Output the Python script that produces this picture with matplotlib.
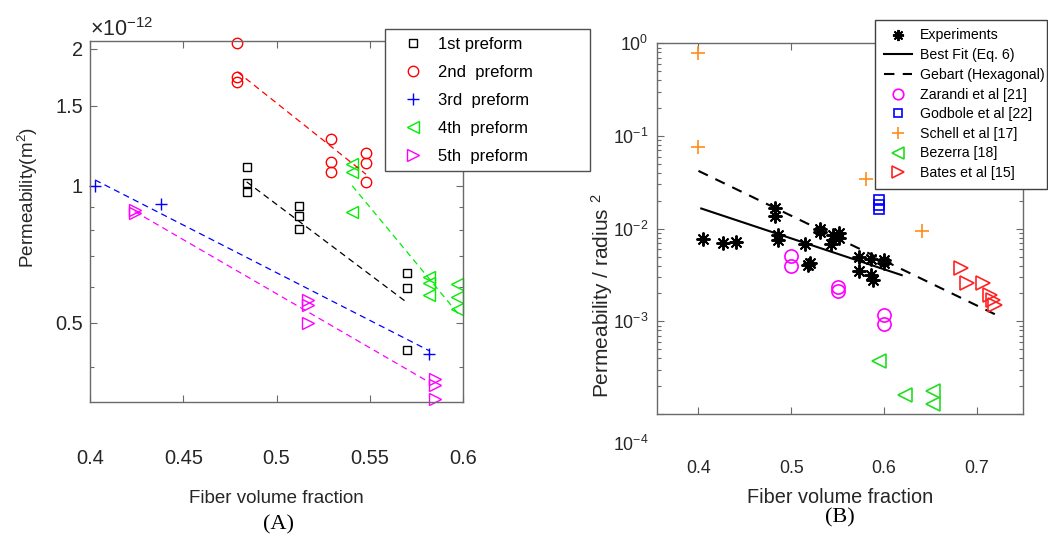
import math
import matplotlib
matplotlib.use('Agg')
import matplotlib.pyplot as plt
from matplotlib.ticker import FixedLocator, NullFormatter, FuncFormatter

plt.rcParams['font.family'] = ['Liberation Sans', 'DejaVu Sans']
plt.rcParams['mathtext.fontset'] = 'custom'
plt.rcParams['mathtext.rm'] = 'Liberation Sans'
plt.rcParams['mathtext.it'] = 'Liberation Sans:italic'
plt.rcParams['mathtext.bf'] = 'Liberation Sans:bold'
plt.rcParams['mathtext.default'] = 'regular'

# ---- (A) permeability of the five preforms, in 1e-12 m^2 ----
pf1_vf = [0.484, 0.484, 0.484, 0.512, 0.512, 0.512, 0.570, 0.570, 0.570]
pf1_k = [1.10, 1.015, 0.968, 0.904, 0.86, 0.805, 0.642, 0.597, 0.436]
pf2_vf = [0.479, 0.479, 0.479, 0.529, 0.529, 0.529, 0.548, 0.548, 0.548]
pf2_k = [2.06, 1.73, 1.69, 1.27, 1.13, 1.07, 1.18, 1.12, 1.02]
pf3_vf = [0.4027, 0.438, 0.582]
pf3_k = [1.0, 0.911, 0.426]
pf4_vf = [0.5406, 0.5406, 0.5406, 0.582, 0.582, 0.582, 0.5966, 0.5966, 0.5966]
pf4_k = [1.114, 1.07, 0.878, 0.63, 0.612, 0.577, 0.607, 0.57, 0.536]
pf5_vf = [0.424, 0.424, 0.517, 0.517, 0.517, 0.585, 0.585, 0.585]
pf5_k = [0.886, 0.87, 0.561, 0.547, 0.50, 0.376, 0.366, 0.34]

# exponential fits (end points)
fit1_vf, fit1_k = [0.484, 0.570], [1.02, 0.554]
fit2_vf, fit2_k = [0.479, 0.548], [1.78, 1.06]
fit3_vf, fit3_k = [0.4027, 0.582], [1.03, 0.434]
fit4_vf, fit4_k = [0.5406, 0.598], [1.0, 0.52]
fit5_vf, fit5_k = [0.424, 0.582], [0.878, 0.37]

# ---- (B) normalised permeability vs literature ----
exp_vf = [0.4047, 0.426, 0.4407, 0.482, 0.482, 0.4857, 0.4857, 0.5145, 0.518, 0.52,
          0.5314, 0.5314, 0.543, 0.545, 0.5516, 0.5516, 0.573, 0.573, 0.5854, 0.5854,
          0.588, 0.5998, 0.5998]
exp_k = [0.0078, 0.0070, 0.0072, 0.0169, 0.0136, 0.0085, 0.0075, 0.0069, 0.0041, 0.0043,
         0.0092, 0.0098, 0.0069, 0.0085, 0.0089, 0.0080, 0.0049, 0.0035, 0.0047, 0.0032,
         0.0028, 0.0046, 0.0043]
zarandi_vf = [0.5, 0.5, 0.55, 0.55, 0.6, 0.6]
zarandi_k = [0.00505, 0.0040, 0.00236, 0.0021, 0.00118, 0.00093]
godbole_vf = [0.595, 0.595, 0.595]
godbole_k = [0.0203, 0.018, 0.0162]
schell_vf = [0.4, 0.4, 0.58, 0.6405]
schell_k = [0.78, 0.076, 0.034, 0.0095]
bezerra_vf = [0.594, 0.623, 0.653, 0.653]
bezerra_k = [0.000373, 0.000162, 0.000177, 0.000128]
bates_vf = [0.683, 0.689, 0.707, 0.714, 0.719, 0.717]
bates_k = [0.0038, 0.0026, 0.0026, 0.0019, 0.0015, 0.0017]
bestfit_vf, bestfit_k = [0.403, 0.619], [0.0165, 0.00315]
gebart_vf, gebart_k = [0.4, 0.725], [0.042, 0.00112]

W, H = 1048, 536
fig = plt.figure(figsize=(W / 100, H / 100), dpi=100)
axA = fig.add_axes([90 / W, 1 - 402 / H, 373 / W, 361 / H])
axB = fig.add_axes([656.7 / W, 1 - 414 / H, 366.6 / W, 370.7 / H])

spine_col = '#6a6a6a'
txt_col = '#262626'
for ax in (axA, axB):
    for s in ax.spines.values():
        s.set_color(spine_col)
        s.set_linewidth(1.0)
    ax.tick_params(which='both', direction='in', top=True, right=True,
                   color=spine_col, labelcolor=txt_col, width=0.8)
    ax.tick_params(which='major', length=5)
    ax.tick_params(which='minor', length=3)

# ---------------- panel A ----------------
ms = dict(fillstyle='none', linestyle='none', mew=1.0, clip_on=False)
axA.plot(pf1_vf, pf1_k, marker='s', color='k', ms=6, label='1st preform', **ms)
axA.plot(pf2_vf, pf2_k, marker='o', color='red', ms=7.5, label='2nd  preform', **ms)
axA.plot(pf3_vf, pf3_k, marker='+', color='blue', ms=8, label='3rd  preform', **ms)
axA.plot(pf4_vf, pf4_k, marker='<', color='#00ee00', ms=8, label='4th  preform', **ms)
axA.plot(pf5_vf, pf5_k, marker='>', color='magenta', ms=8, label='5th  preform', **ms)

dash = dict(linestyle=(0, (5, 3.5)), lw=0.9)
axA.plot(fit1_vf, fit1_k, color='k', **dash)
axA.plot(fit2_vf, fit2_k, color='red', **dash)
axA.plot(fit3_vf, fit3_k, color='blue', **dash)
axA.plot(fit4_vf, fit4_k, color='#00ee00', **dash)
axA.plot(fit5_vf, fit5_k, color='magenta', **dash)

axA.set_yscale('log')
axA.set_xlim(0.4, 0.6)
axA.set_ylim(0.335, 2.08)
axA.xaxis.set_major_locator(FixedLocator([0.4, 0.45, 0.5, 0.55, 0.6]))
axA.xaxis.set_major_formatter(FuncFormatter(lambda v, p: f'{v:g}'))
axA.yaxis.set_major_locator(FixedLocator([0.5, 1, 1.5, 2]))
axA.yaxis.set_major_formatter(FuncFormatter(lambda v, p: f'{v:g}'))
axA.yaxis.set_minor_locator(FixedLocator([0.4, 0.6, 0.7, 0.8, 0.9]))
axA.yaxis.set_minor_formatter(NullFormatter())
axA.tick_params(axis='x', labelsize=14.4, pad=34)
axA.tick_params(axis='y', labelsize=14.4, pad=5)
axA.set_xlabel('Fiber volume fraction', fontsize=13.5, color=txt_col, labelpad=16)
axA.set_ylabel('Permeability(m$^2$)', fontsize=13.6, color=txt_col)
axA.yaxis.set_label_coords(-0.134, 0.568)
axA.text(0.0, 1.0, r'$\times\mathdefault{10^{-12}}$', transform=axA.transAxes,
         fontsize=15.5, color=txt_col, ha='left', va='bottom')

legA = axA.legend(loc='upper left', bbox_to_anchor=(385 / W, 1 - 175 / H, 205 / W, 146 / H),
                  bbox_transform=fig.transFigure, mode='expand', borderaxespad=0,
                  fontsize=12, frameon=True, fancybox=False, framealpha=1,
                  edgecolor='#505050', borderpad=0.45, labelspacing=0.78,
                  handlelength=2.4, handletextpad=0.3)
legA.get_frame().set_linewidth(1.0)

# ---------------- panel B ----------------
axB.plot(exp_vf, exp_k, marker=(8, 2, 0), color='k', ms=10, mew=1.4,
         linestyle='none', label='Experiments')
axB.plot(bestfit_vf, bestfit_k, color='k', lw=1.5, label='Best Fit (Eq. 6)')
axB.plot(gebart_vf, gebart_k, color='k', lw=1.5, linestyle=(0, (5, 4)),
         label='Gebart (Hexagonal)')
mb = dict(fillstyle='none', linestyle='none', mew=1.2)
axB.plot(zarandi_vf, zarandi_k, marker='o', color='magenta', ms=9.5,
         label='Zarandi et al [21]', **mb)
axB.plot(godbole_vf, godbole_k, marker='s', color='blue', ms=6.5,
         label='Godbole et al [22]', **mb)
axB.plot(schell_vf, schell_k, marker='+', color='#ff8c1a', ms=10,
         label='Schell et al [17]', **mb)
axB.plot(bezerra_vf, bezerra_k, marker='<', color='#22dd22', ms=10,
         label='Bezerra [18]', **mb)
axB.plot(bates_vf, bates_k, marker='>', color='#ff2222', ms=10,
         label='Bates et al [15]', **mb)

axB.set_yscale('log')
axB.set_xlim(0.355, 0.75)
axB.set_ylim(1e-4, 1)
axB.xaxis.set_major_locator(FixedLocator([0.4, 0.5, 0.6, 0.7]))
axB.xaxis.set_major_formatter(FuncFormatter(lambda v, p: f'{v:g}'))
decades = [1e-4, 1e-3, 1e-2, 1e-1, 1e0]
axB.yaxis.set_major_locator(FixedLocator(decades))
axB.yaxis.set_major_formatter(FuncFormatter(
    lambda v, p: '' if v < 5e-4 else r'$\mathdefault{10^{%d}}$' % round(math.log10(v))))
axB.yaxis.set_minor_locator(FixedLocator([m * d for d in decades[:-1] for m in range(2, 10)]))
axB.yaxis.set_minor_formatter(NullFormatter())
axB.tick_params(axis='x', labelsize=12.8, pad=33)
axB.tick_params(axis='y', labelsize=12.8, pad=6)
# the lowest decade label sits below the frame
axB.annotate(r'$\mathdefault{10^{-4}}$', xy=(0, decades[0]), xycoords=('axes fraction', 'data'),
             xytext=(-6, -22), textcoords='offset points', ha='right', va='center',
             fontsize=12.8, color=txt_col, annotation_clip=False)
axB.set_xlabel('Fiber volume fraction', fontsize=14.3, color=txt_col, labelpad=8)
axB.set_ylabel('Permeability / radius $^2$', fontsize=15, color=txt_col)
axB.yaxis.set_label_coords(-0.115, 0.318)

legB = axB.legend(loc='upper left', bbox_to_anchor=(875 / W, 1 - 188 / H, 172 / W, 168 / H),
                  bbox_transform=fig.transFigure, mode='expand', borderaxespad=0,
                  fontsize=10.2, frameon=True, fancybox=False, framealpha=1,
                  edgecolor='#404040', borderpad=0.6, labelspacing=0.4,
                  handlelength=2.0, handletextpad=0.6, markerscale=0.8)
legB.get_frame().set_linewidth(1.0)

fig.text(278 / W, 1 - 525 / H, '(A)', family=['Liberation Serif'], fontsize=16,
         ha='center', va='center', color='k')
fig.text(840 / W, 1 - 518 / H, '(B)', family=['Liberation Serif'], fontsize=16,
         ha='center', va='center', color='k')

fig.savefig('out.png', dpi=100)
